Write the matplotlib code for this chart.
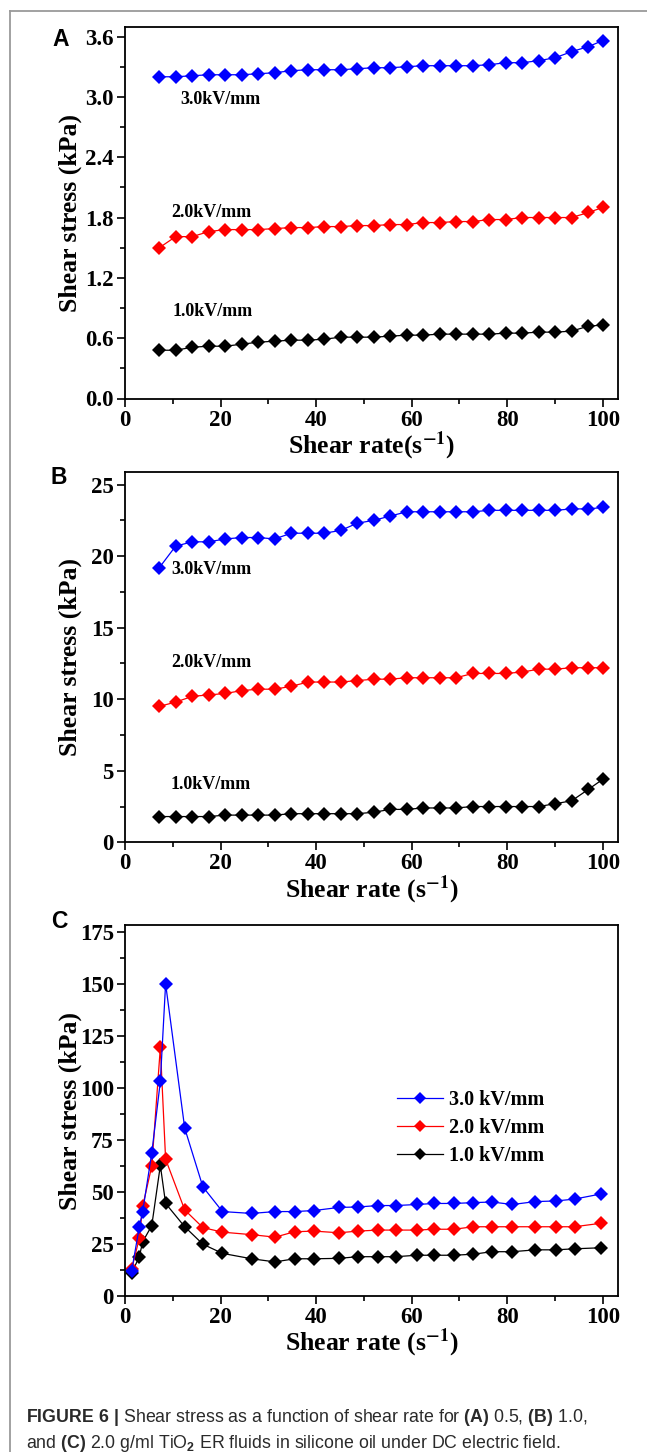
import matplotlib
matplotlib.use('Agg')
import matplotlib.pyplot as plt
from matplotlib.lines import Line2D
from matplotlib.ticker import MultipleLocator, FormatStrFormatter

plt.rcParams['font.family'] = ['Liberation Serif', 'DejaVu Serif']
plt.rcParams['font.weight'] = 'bold'
plt.rcParams['mathtext.fontset'] = 'custom'
plt.rcParams['mathtext.rm'] = 'Liberation Sans'
plt.rcParams['mathtext.bf'] = 'Liberation Sans:bold'
plt.rcParams['mathtext.it'] = 'Liberation Sans:italic'

# ---------------- data ----------------
series_labels = ['3.0 kV/mm', '2.0 kV/mm', '1.0 kV/mm']
series_colors = ['#0000FF', '#FF0000', '#000000']

shear_rate_ab = [7.2, 10.6, 14.1, 17.5, 21.0, 24.4, 27.9, 31.3, 34.8, 38.3,
                 41.7, 45.2, 48.6, 52.1, 55.5, 59.0, 62.4, 65.9, 69.3, 72.8,
                 76.3, 79.7, 83.2, 86.6, 90.1, 93.5, 97.0, 100.0]

a_3kv = [3.20, 3.20, 3.21, 3.22, 3.22, 3.22, 3.23, 3.24, 3.26, 3.27,
         3.27, 3.27, 3.28, 3.29, 3.29, 3.30, 3.31, 3.31, 3.31, 3.31,
         3.32, 3.34, 3.34, 3.36, 3.39, 3.45, 3.50, 3.56]
a_2kv = [1.50, 1.61, 1.61, 1.66, 1.68, 1.68, 1.68, 1.69, 1.70, 1.70,
         1.71, 1.71, 1.72, 1.72, 1.73, 1.73, 1.75, 1.75, 1.76, 1.76,
         1.78, 1.78, 1.80, 1.80, 1.80, 1.80, 1.85, 1.90]
a_1kv = [0.48, 0.48, 0.51, 0.52, 0.52, 0.54, 0.56, 0.57, 0.58, 0.58,
         0.59, 0.61, 0.61, 0.61, 0.62, 0.63, 0.63, 0.64, 0.64, 0.64,
         0.64, 0.65, 0.65, 0.66, 0.66, 0.67, 0.72, 0.73]

b_3kv = [19.2, 20.7, 21.0, 21.0, 21.2, 21.3, 21.3, 21.2, 21.6, 21.6,
         21.6, 21.8, 22.3, 22.5, 22.8, 23.1, 23.1, 23.1, 23.1, 23.1,
         23.2, 23.2, 23.2, 23.2, 23.2, 23.3, 23.3, 23.4]
b_2kv = [9.5, 9.8, 10.2, 10.3, 10.4, 10.6, 10.7, 10.7, 10.9, 11.2,
         11.2, 11.2, 11.3, 11.4, 11.4, 11.5, 11.5, 11.5, 11.5, 11.8,
         11.8, 11.8, 11.9, 12.1, 12.1, 12.2, 12.2, 12.2]
b_1kv = [1.8, 1.8, 1.8, 1.8, 1.9, 1.9, 1.9, 1.9, 2.0, 2.0,
         2.0, 2.0, 2.0, 2.1, 2.3, 2.3, 2.4, 2.4, 2.4, 2.5,
         2.5, 2.5, 2.5, 2.5, 2.7, 2.9, 3.7, 4.4]

shear_rate_c = [1.4, 3.0, 3.7, 5.6, 7.4, 8.5, 12.5, 16.3, 20.4, 26.5,
                31.4, 35.5, 39.6, 44.8, 48.7, 53.0, 56.7, 61.1, 64.7, 68.9,
                72.9, 76.8, 81.1, 85.9, 90.2, 94.1, 99.7]
c_3kv = [12.1, 33.3, 40.6, 68.7, 103.2, 150.1, 80.7, 52.5, 40.6, 39.7,
         40.6, 40.6, 41.1, 42.6, 42.8, 43.5, 43.5, 44.0, 44.5, 44.5,
         44.9, 45.2, 44.0, 45.4, 45.7, 46.6, 49.1]
c_2kv = [13.0, 27.8, 43.2, 62.4, 119.6, 65.8, 41.4, 32.9, 30.7, 29.5,
         28.3, 30.9, 31.2, 30.4, 31.2, 31.7, 31.7, 31.7, 32.1, 32.1,
         33.3, 33.3, 33.3, 33.3, 33.3, 33.3, 35.0]
c_1kv = [11.1, 18.9, 26.1, 33.8, 62.8, 44.5, 33.3, 24.9, 20.5, 17.9,
         16.4, 17.9, 17.9, 18.1, 18.9, 18.9, 18.9, 19.6, 19.6, 19.6,
         20.1, 21.3, 21.3, 22.2, 22.2, 22.7, 23.2]

x_ticks = [0, 20, 40, 60, 80, 100]

# ---------------- figure ----------------
W, H = 647, 1452
fig = plt.figure(figsize=(W / 100, H / 100), dpi=100)


def frac(l, t, r, b):
    return [l / W, 1 - b / H, (r - l) / W, (b - t) / H]


axA = fig.add_axes(frac(125, 27.5, 618, 398.5))
axB = fig.add_axes(frac(125, 471.7, 618, 842.3))
axC = fig.add_axes(frac(125, 925, 618, 1296))


def style(ax, ymax, ymajor, yfmt, xlabel):
    ax.set_xlim(0, 103.2)
    ax.set_ylim(0, ymax)
    ax.set_xticks(x_ticks)
    ax.xaxis.set_minor_locator(MultipleLocator(10))
    ax.yaxis.set_major_locator(MultipleLocator(ymajor))
    ax.yaxis.set_minor_locator(MultipleLocator(ymajor / 2))
    ax.yaxis.set_major_formatter(FormatStrFormatter(yfmt))
    ax.tick_params(which='major', direction='out', length=6, width=1.2,
                   top=False, right=False, labelsize=16.5, pad=2)
    ax.tick_params(which='minor', direction='out', length=3.5, width=1.2,
                   top=False, right=False)
    for s in ax.spines.values():
        s.set_linewidth(1.3)
    ax.set_ylabel('Shear stress (kPa)', fontsize=18.5, fontweight='bold')
    ax.yaxis.set_label_coords(-0.088, 0.5)
    ax.set_xlabel(xlabel, fontsize=18.5, fontweight='bold', math_fontfamily='stix')
    ax.xaxis.set_label_coords(0.5, -0.083)


def plot_series(ax, x, ys, ms=7.5):
    handles = []
    for y, c, lab in zip(ys, series_colors, series_labels):
        h, = ax.plot(x, y, color=c, lw=0.9, marker='D', ms=ms, mew=0,
                     label=lab)
        handles.append(h)
    return handles


# Panel A
plot_series(axA, shear_rate_ab, [a_3kv, a_2kv, a_1kv])
style(axA, 3.69, 0.6, '%.1f', r'Shear rate(s$^{\mathbf{-1}}$)')
for txt, xx, yy in [('3.0kV/mm', 11.5, 2.97), ('2.0kV/mm', 9.7, 1.85),
                    ('1.0kV/mm', 10.0, 0.87)]:
    axA.text(xx, yy, txt, fontsize=13, fontweight='bold', va='center', ha='left')

# Panel B
plot_series(axB, shear_rate_ab, [b_3kv, b_2kv, b_1kv])
style(axB, 25.9, 5, '%d', r'Shear rate (s$^{\mathbf{-1}}$)')
for txt, xx, yy in [('3.0kV/mm', 9.7, 19.07), ('2.0kV/mm', 9.7, 12.6),
                    ('1.0kV/mm', 9.5, 4.07)]:
    axB.text(xx, yy, txt, fontsize=13, fontweight='bold', va='center', ha='left')

# Panel C (black first so blue is on top)
hs = []
for y, c, lab in zip([c_1kv, c_2kv, c_3kv], series_colors[::-1], series_labels[::-1]):
    h, = axC.plot(shear_rate_c, y, color=c, lw=0.9, marker='D', ms=7.5, mew=0, label=lab)
    hs.append(h)
style(axC, 178.4, 25, '%d', r'Shear rate (s$^{\mathbf{-1}}$)')
axC.legend(handles=hs[::-1], labels=series_labels, loc='center left',
           bbox_to_anchor=(0.552, 0.4528), frameon=False, fontsize=14.5,
           handlelength=2.3, handletextpad=0.3, labelspacing=0.4,
           borderaxespad=0, borderpad=0, markerscale=0.8)

# panel letters
for letter, xc, yc in [('A', 61, 39.5), ('B', 59, 477.5), ('C', 59, 921.5)]:
    fig.text(xc / W, 1 - yc / H, letter, family='Liberation Sans', weight='bold',
             fontsize=16.5, ha='center', va='center')

# frame lines
fig.add_artist(Line2D([10 / W, 1], [1 - 11 / H, 1 - 11 / H], color='#9a9a9a', lw=1.3,
                      transform=fig.transFigure))
fig.add_artist(Line2D([10 / W, 10 / W], [0, 1 - 11 / H], color='#9a9a9a', lw=1.3,
                      transform=fig.transFigure))

# caption
cap1 = r"$\mathbf{FIGURE\ 6\ |}$ Shear stress as a function of shear rate for $\mathbf{(A)}$ 0.5, $\mathbf{(B)}$ 1.0,"
cap2 = r"and $\mathbf{(C)}$ 2.0 g/ml TiO$_{\mathrm{2}}$ ER fluids in silicone oil under DC electric field."
fig.text(26 / W, 1 - 1422 / H, cap1, family='Liberation Sans', weight='normal',
         fontsize=12.8, color='#2a2a2a', ha='left', va='baseline')
fig.text(26 / W, 1 - 1448 / H, cap2, family='Liberation Sans', weight='normal',
         fontsize=12.8, color='#2a2a2a', ha='left', va='baseline')

fig.savefig('out.png', dpi=100)
